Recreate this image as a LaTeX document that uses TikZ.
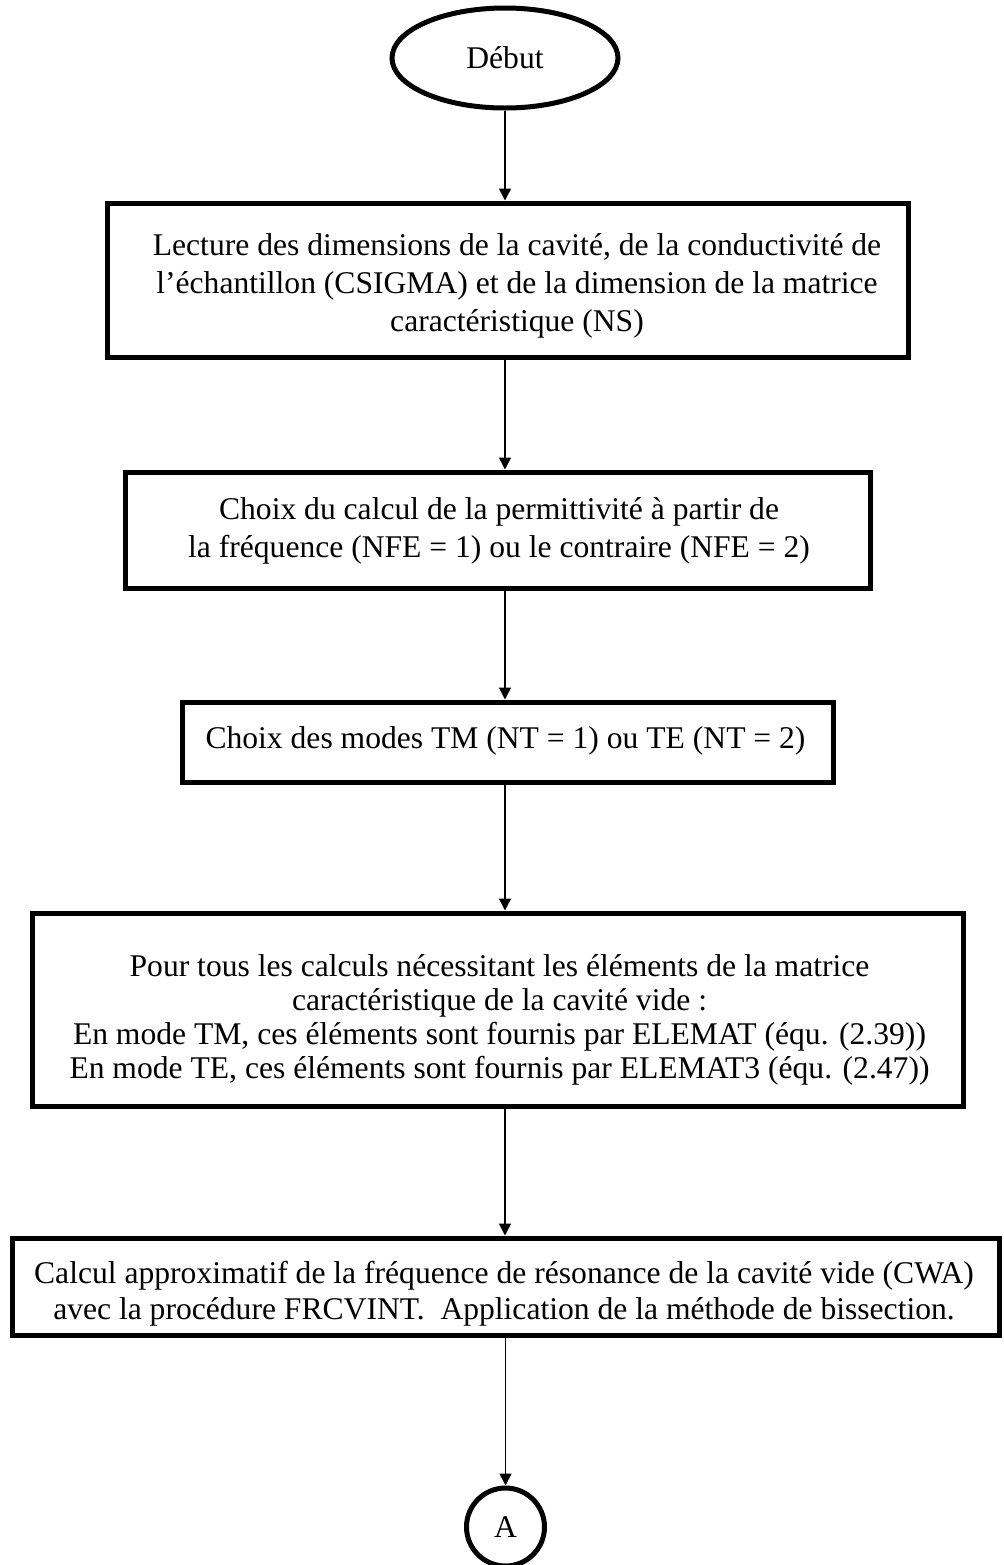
\documentclass[tikz,border=0pt]{standalone}
\usepackage{fontspec}
\setmainfont{Liberation Serif}
\usetikzlibrary{shapes.geometric,arrows.meta}
\begin{document}
\begin{tikzpicture}
[x=0.5pt,y=-0.5pt,
  boxdecorate/.style={shape=rectangle,draw,line width=2.5pt,inner sep=0pt},%
  textdecorate/.style={align=center,inner sep=0pt,font=\fontsize{15.8}{19}\selectfont},%
  linedecorate/.style={-{Triangle[length=6pt,width=6pt]},line width=0.75pt}]
\useasboundingbox (0,0) rectangle (1004,1565);
%% start and connector
\node (debut) at (505,58) [shape=ellipse,draw,line width=2.5pt,minimum width=113pt,minimum height=50pt,textdecorate] {Début};
\node (a) at (505.5,1527) [shape=circle,draw,line width=2.5pt,minimum size=39pt,textdecorate] {A};
%% boxes
\foreach \nodename/\x/\y/\w/\h in {
  lecture/507.5/280/801/154, choix/497.5/530/745/116,
  modes/507.5/742/651/80, elements/497.5/1009.5/931/193,
  cwa/505.5/1286.5/987/97}
{
  \node (\nodename) at (\x,\y) [boxdecorate,minimum width=\w*0.5pt,minimum height=\h*0.5pt] {};
}
%% texts
\node (lecturetxt) at (517,286) [textdecorate] {Lecture des dimensions de la cavité, de la conductivité de\\
  l’échantillon (CSIGMA) et de la dimension de la matrice\\caractéristique (NS)};
\node (choixtxt) at (499,531) [textdecorate] {Choix du calcul de la permittivité à partir de\\
  la fréquence (NFE = 1) ou le contraire (NFE = 2)};
\node (modestxt) at (505.5,741) [textdecorate] {Choix des modes TM (NT = 1) ou TE (NT = 2)};
\node (elementstxt) at (499.5,1020) [textdecorate,font=\fontsize{15.8}{17}\selectfont] {Pour tous les calculs nécessitant les éléments de la matrice\\
  caractéristique de la cavité vide :\\
  En mode TM, ces éléments sont fournis par ELEMAT (équ. (2.39))\\
  En mode TE, ces éléments sont fournis par ELEMAT3 (équ. (2.47))};
\node (cwatxt) at (504,1294) [textdecorate,font=\fontsize{15.8}{18}\selectfont] {Calcul approximatif de la fréquence de résonance de la cavité vide (CWA)\\
  avec la procédure FRCVINT.~ Application de la méthode de bissection.};
%% edges or lines
\draw[linedecorate] (debut.south) -- (debut.south |- lecture.north);
\foreach \startnode/\endnode in {lecture/choix, choix/modes, modes/elements, elements/cwa}
{
  \draw[linedecorate] (\startnode.south -| debut) -- (\endnode.north -| debut);
}
\draw[linedecorate] (cwa.south -| a) -- (a.north);
\end{tikzpicture}
\end{document}
